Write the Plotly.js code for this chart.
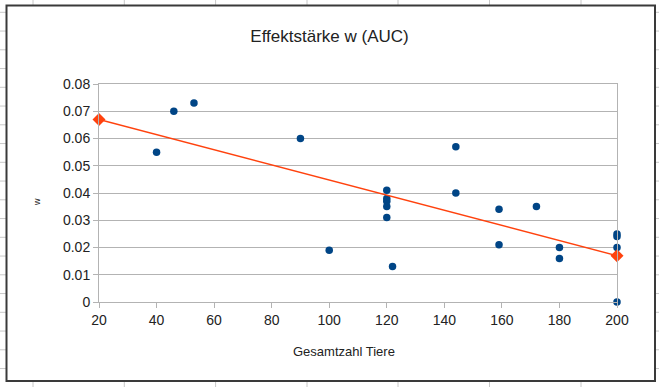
<!DOCTYPE html>
<html>
<head>
<meta charset="utf-8">
<script src="https://cdn.plot.ly/plotly-3.0.1.min.js"></script>
<style>html,body{margin:0;padding:0;background:#fff;}#chart{width:659px;height:387px;}</style>
</head>
<body>
<div id="chart"></div>
<script>
// Data
const totalAnimals = [40, 46, 53, 90, 100, 120, 120, 120, 120, 120, 122, 144, 144, 159, 159, 172, 180, 180, 200, 200, 200, 200];
const effectW = [0.055, 0.070, 0.073, 0.060, 0.019, 0.041, 0.038, 0.037, 0.035, 0.031, 0.013, 0.057, 0.040, 0.034, 0.021, 0.035, 0.020, 0.016, 0.025, 0.024, 0.020, 0.000];
const trendX = [20, 200];
const trendY = [0.067, 0.017];
const xTicks = [20, 40, 60, 80, 100, 120, 140, 160, 180, 200];
const yTicks = [0, 0.01, 0.02, 0.03, 0.04, 0.05, 0.06, 0.07, 0.08];

const W = 659, H = 387;
const M = {l: 99, r: 42, t: 84, b: 85};
const PW = W - M.l - M.r, PH = H - M.t - M.b;
const px = x => (x - M.l) / PW;
const py = y => (H - M.b - y) / PH;

const FONT = 'Liberation Sans, Arial, sans-serif';
const gridColor = '#b3b3b3';

// spreadsheet background lines and chart frame
const shapes = [];
const colLines = [33, 124.3, 215.6, 307, 398, 489.5, 581];
colLines.forEach(c => shapes.push({type: 'line', xref: 'paper', yref: 'paper', x0: px(c), x1: px(c), y0: py(0), y1: py(H), line: {color: '#c8c8c8', width: 1}, layer: 'below'}));
for (let r = 12.3; r < H; r += 18.75) {
  shapes.push({type: 'line', xref: 'paper', yref: 'paper', x0: px(0), x1: px(W), y0: py(r), y1: py(r), line: {color: '#c8c8c8', width: 1}, layer: 'below'});
}
shapes.push({type: 'rect', xref: 'paper', yref: 'paper', x0: px(6.5), x1: px(655), y0: py(5.5), y1: py(381), fillcolor: '#ffffff', line: {color: '#3a3a3a', width: 2}, layer: 'below'});

const traces = [
  {
    x: totalAnimals, y: effectW, type: 'scatter', mode: 'markers',
    marker: {color: '#004586', size: 7.5, symbol: 'circle'},
    hoverinfo: 'x+y', cliponaxis: false
  },
  {
    x: trendX, y: trendY, type: 'scatter', mode: 'lines+markers',
    line: {color: '#ff420e', width: 1.5},
    marker: {color: '#ff420e', size: 10, symbol: 'diamond'},
    cliponaxis: false
  }
];

const layout = {
  width: W, height: H,
  margin: M,
  paper_bgcolor: 'rgba(0,0,0,0)',
  plot_bgcolor: '#ffffff',
  showlegend: false,
  font: {family: FONT, color: '#222', size: 14},
  title: {text: 'Effektstärke w (AUC)', x: 0.5, xref: 'container', xanchor: 'center', y: 1 - 36.5 / H, yref: 'container', yanchor: 'middle', font: {family: FONT, size: 17, color: '#222'}},
  xaxis: {
    range: [20, 200], tickvals: xTicks, ticktext: xTicks.map(String),
    showgrid: false, zeroline: false,
    showline: true, linecolor: gridColor, linewidth: 1, mirror: true,
    ticks: 'outside', ticklen: 5, tickcolor: gridColor, tickwidth: 1,
    tickfont: {family: FONT, size: 14, color: '#222'}
  },
  yaxis: {
    range: [0, 0.08], tickvals: yTicks, ticktext: yTicks.map(v => v === 0 ? '0' : v.toFixed(2)),
    showgrid: true, gridcolor: gridColor, gridwidth: 1, zeroline: false,
    showline: true, linecolor: gridColor, linewidth: 1, mirror: true,
    ticks: 'outside', ticklen: 5, tickcolor: gridColor, tickwidth: 1,
    tickfont: {family: FONT, size: 14, color: '#222'}
  },
  shapes: shapes,
  annotations: [
    {text: 'Gesamtzahl Tiere', xref: 'paper', yref: 'paper', x: px(344), y: py(351), xanchor: 'center', yanchor: 'middle', showarrow: false, font: {family: FONT, size: 13, color: '#222'}},
    {text: 'w', xref: 'paper', yref: 'paper', x: px(37), y: py(202), xanchor: 'center', yanchor: 'middle', textangle: -90, showarrow: false, font: {family: FONT, size: 9, color: '#222'}}
  ]
};

Plotly.newPlot('chart', traces, layout, {displayModeBar: false, staticPlot: true});
</script>
</body>
</html>
